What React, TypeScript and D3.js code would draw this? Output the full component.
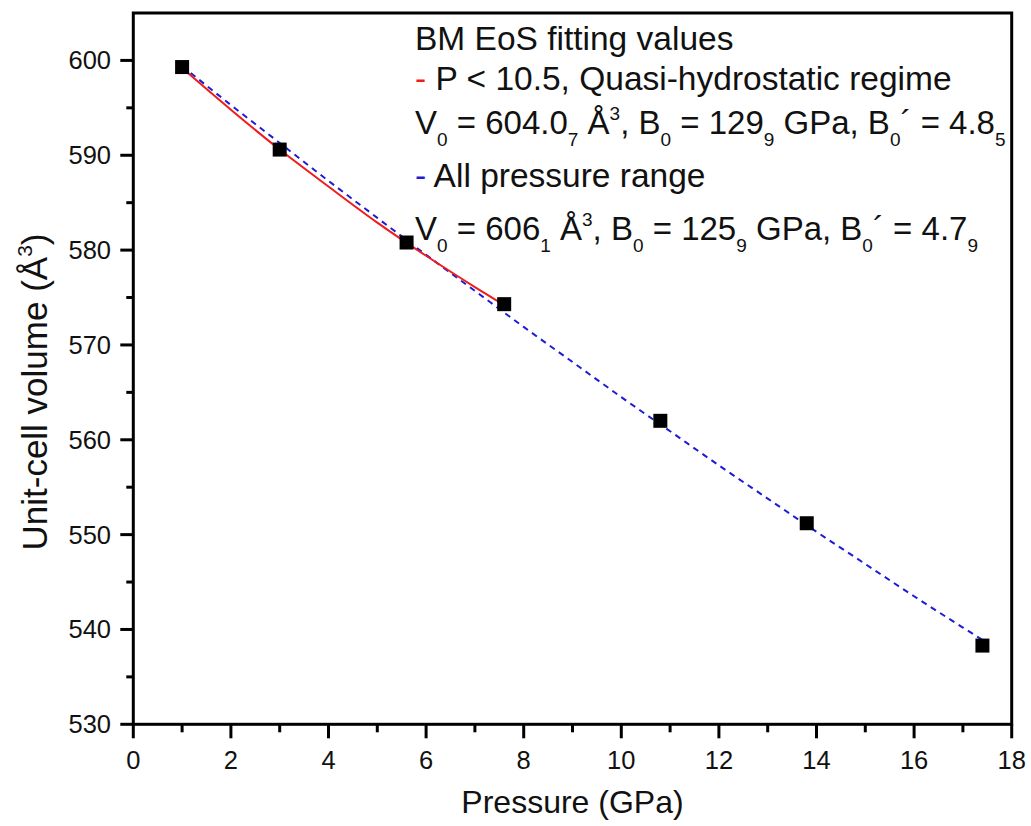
import React from "react";
import * as d3 from "d3";

const pressure = [1.0, 3.0, 5.6, 7.6, 10.8, 13.8, 17.4];
const volume = [599.3, 590.6, 580.8, 574.3, 562.0, 551.2, 538.3];

const redFitP = [1, 2, 3, 4, 5, 6, 7, 7.6];
const redFitV = [599.2, 594.8, 590.6, 586.7, 582.9, 579.4, 576.1, 574.2];

const blueFitP = [1, 2, 3, 4, 5, 6, 7, 8, 9, 10, 11, 12, 13, 14, 15, 16, 17, 17.4];
const blueFitV = [599.4, 595.3, 591.3, 587.3, 583.4, 579.5, 575.7, 571.9, 568.2, 564.5, 560.9, 557.3, 553.8, 550.3, 546.9, 543.5, 540.2, 538.9];

const xTicks = [0, 2, 4, 6, 8, 10, 12, 14, 16, 18];
const xMinor = [1, 3, 5, 7, 9, 11, 13, 15, 17];
const yTicks = [530, 540, 550, 560, 570, 580, 590, 600];
const yMinor = [535, 545, 555, 565, 575, 585, 595];

const W = 1031, H = 826;
const L = 133.3, R = 1011.7, T = 13, B = 724.3;
const FONT = "'Liberation Sans', Arial, Helvetica, sans-serif";

export default function App() {
  const x = d3.scaleLinear().domain([0, 18]).range([L, R]);
  const y = d3.scaleLinear().domain([530, 605]).range([B, T]);
  const line = d3.line<[number, number]>().x(d => x(d[0])).y(d => y(d[1])).curve(d3.curveMonotoneX);
  const redPath = line(redFitP.map((p, i) => [p, redFitV[i]]) as [number, number][]) || "";
  const bluePath = line(blueFitP.map((p, i) => [p, blueFitV[i]]) as [number, number][]) || "";
  const sq = 14;
  const lx = 415;
  const fs = 33.5;
  const fs2 = 33;
  const sub = { fontSize: 19 };
  return (
    <svg width={W} height={H} style={{ position: "absolute", left: 0, top: 0, background: "#fff" }} fontFamily={FONT}>
      <rect x={0} y={0} width={W} height={H} fill="#fff" />
      {/* fits */}
      <path d={bluePath} fill="none" stroke="#1c1cd6" strokeWidth={2} strokeDasharray="6,5" />
      <path d={redPath} fill="none" stroke="#ee1c1c" strokeWidth={2} />
      {/* points */}
      {pressure.map((p, i) => (
        <rect key={i} x={x(p) - sq / 2} y={y(volume[i]) - sq / 2} width={sq} height={sq} fill="#000" />
      ))}
      {/* frame */}
      <rect x={L} y={T} width={R - L} height={B - T} fill="none" stroke="#000" strokeWidth={3} />
      {/* x ticks */}
      {xTicks.map(t => (
        <g key={"xt" + t}>
          <line x1={x(t)} x2={x(t)} y1={B} y2={B + 14} stroke="#000" strokeWidth={3} />
          <text x={x(t)} y={B + 45} textAnchor="middle" fontSize={25.5} fill="#111">{t}</text>
        </g>
      ))}
      {xMinor.map(t => (
        <line key={"xm" + t} x1={x(t)} x2={x(t)} y1={B} y2={B + 8} stroke="#000" strokeWidth={3} />
      ))}
      {/* y ticks */}
      {yTicks.map(t => (
        <g key={"yt" + t}>
          <line x1={L - 13} x2={L} y1={y(t)} y2={y(t)} stroke="#000" strokeWidth={3} />
          <text x={111} y={y(t) + 9} textAnchor="end" fontSize={25.5} fill="#111">{t}</text>
        </g>
      ))}
      {yMinor.map(t => (
        <line key={"ym" + t} x1={L - 7} x2={L} y1={y(t)} y2={y(t)} stroke="#000" strokeWidth={3} />
      ))}
      {/* axis titles */}
      <text x={(L + R) / 2} y={813} textAnchor="middle" fontSize={32} fill="#111">Pressure (GPa)</text>
      <text transform={`translate(47,${392}) rotate(-90)`} textAnchor="middle" fontSize={35} fill="#111">
        Unit-cell volume (Å<tspan dy={-15} fontSize={21}>3</tspan><tspan dy={15}>)</tspan>
      </text>
      {/* legend text */}
      <g fontSize={fs} fill="#111">
        <text x={lx} y={50}>BM EoS fitting values</text>
        <text x={lx} y={90}><tspan fill="#ee1c1c">-</tspan> P &lt; 10.5, Quasi-hydrostatic regime</text>
        <text x={lx} y={134} fontSize={fs2}>
          V<tspan dy={12} {...sub}>0</tspan><tspan dy={-12}> = 604.0</tspan><tspan dy={12} {...sub}>7</tspan>
          <tspan dy={-12}> Å</tspan><tspan dy={-14} {...sub}>3</tspan><tspan dy={14}>, B</tspan>
          <tspan dy={12} {...sub}>0</tspan><tspan dy={-12}> = 129</tspan><tspan dy={12} {...sub}>9</tspan>
          <tspan dy={-12}> GPa, B</tspan><tspan dy={12} {...sub}>0</tspan><tspan dy={-12}>´ = 4.8</tspan>
          <tspan dy={12} {...sub}>5</tspan>
        </text>
        <text x={lx} y={187}><tspan fill="#1c1cd6">-</tspan> All pressure range</text>
        <text x={lx} y={240} fontSize={fs2}>
          V<tspan dy={12} {...sub}>0</tspan><tspan dy={-12}> = 606</tspan><tspan dy={12} {...sub}>1</tspan>
          <tspan dy={-12}> Å</tspan><tspan dy={-14} {...sub}>3</tspan><tspan dy={14}>, B</tspan>
          <tspan dy={12} {...sub}>0</tspan><tspan dy={-12}> = 125</tspan><tspan dy={12} {...sub}>9</tspan>
          <tspan dy={-12}> GPa, B</tspan><tspan dy={12} {...sub}>0</tspan><tspan dy={-12}>´ = 4.7</tspan>
          <tspan dy={12} {...sub}>9</tspan>
        </text>
      </g>
    </svg>
  );
}
